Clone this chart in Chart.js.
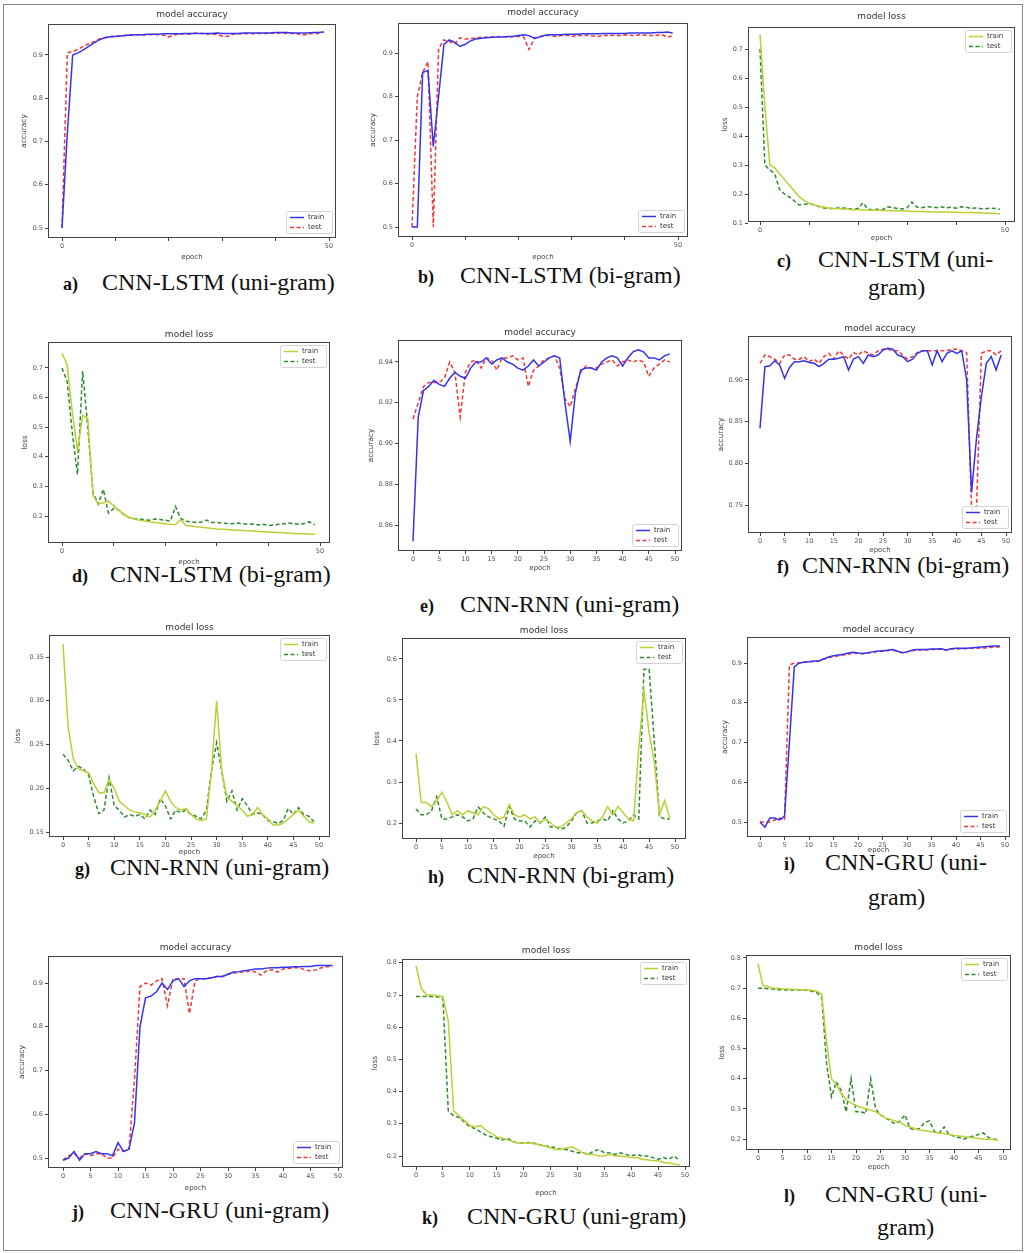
<!DOCTYPE html>
<html>
<head>
<meta charset="utf-8">
<script src="https://cdn.jsdelivr.net/npm/chart.js@4.4.0/dist/chart.umd.min.js"></script>
<style>
  body { margin: 0; background: #fff; width: 1027px; height: 1253px; position: relative; overflow: hidden; }
  .frame { position: absolute; left: 3px; top: 4px; width: 1018px; height: 1245px; border: 1px solid #888; }
  canvas { position: absolute; }
  .cap { position: absolute; font-family: "Liberation Serif", serif; font-size: 24px; line-height: 24px; color: #111; white-space: nowrap; }
  .cap b { display: inline-block; font-size: 18px; }
</style>
</head>
<body>
<div class="frame"></div>

<div class="cap" style="left:63px;top:270px"><b style="width:39px">a)</b>CNN-LSTM (uni-gram)</div>
<div class="cap" style="left:418px;top:263px"><b style="width:42px">b)</b>CNN-LSTM (bi-gram)</div>
<div class="cap" style="left:777px;top:247px"><b style="width:41px">c)</b>CNN-LSTM (uni-</div>
<div class="cap" style="left:868px;top:275px">gram)</div>
<div class="cap" style="left:72px;top:562px"><b style="width:38px">d)</b>CNN-LSTM (bi-gram)</div>
<div class="cap" style="left:420px;top:592px"><b style="width:40px">e)</b>CNN-RNN (uni-gram)</div>
<div class="cap" style="left:777px;top:553px"><b style="width:25px">f)</b>CNN-RNN (bi-gram)</div>
<div class="cap" style="left:75px;top:855px"><b style="width:35px">g)</b>CNN-RNN (uni-gram)</div>
<div class="cap" style="left:428px;top:863px"><b style="width:39px">h)</b>CNN-RNN (bi-gram)</div>
<div class="cap" style="left:784px;top:850px"><b style="width:41px">i)</b>CNN-GRU (uni-</div>
<div class="cap" style="left:868px;top:885px">gram)</div>
<div class="cap" style="left:72px;top:1198px"><b style="width:38px">j)</b>CNN-GRU (uni-gram)</div>
<div class="cap" style="left:422px;top:1204px"><b style="width:45px">k)</b>CNN-GRU (uni-gram)</div>
<div class="cap" style="left:784px;top:1182px"><b style="width:41px">l)</b>CNN-GRU (uni-</div>
<div class="cap" style="left:877px;top:1215px">gram)</div>

<script>
// epochs 0..49 (x values)
const epochs = [
  0, 1, 2, 3, 4, 5, 6, 7, 8, 9,
  10, 11, 12, 13, 14, 15, 16, 17, 18, 19,
  20, 21, 22, 23, 24, 25, 26, 27, 28, 29,
  30, 31, 32, 33, 34, 35, 36, 37, 38, 39,
  40, 41, 42, 43, 44, 45, 46, 47, 48, 49
];

// a) CNN-LSTM uni-gram, accuracy
const aTrain = [
  0.50, 0.72, 0.90, 0.905, 0.912, 0.92, 0.928, 0.935, 0.94, 0.942,
  0.943, 0.944, 0.945, 0.946, 0.947, 0.947, 0.948, 0.948, 0.948, 0.949,
  0.949, 0.949, 0.949, 0.95, 0.95, 0.95, 0.95, 0.95, 0.95, 0.951,
  0.95, 0.95, 0.95, 0.95, 0.951, 0.951, 0.951, 0.951, 0.951, 0.951,
  0.952, 0.952, 0.952, 0.951, 0.951, 0.951, 0.951, 0.952, 0.952, 0.953
];
const aTest = [
  0.50, 0.905, 0.908, 0.913, 0.92, 0.926, 0.931, 0.937, 0.94, 0.942,
  0.944, 0.944, 0.946, 0.946, 0.947, 0.947, 0.946, 0.948, 0.947, 0.946,
  0.942, 0.947, 0.948, 0.949, 0.948, 0.951, 0.95, 0.948, 0.949, 0.947,
  0.944, 0.943, 0.948, 0.949, 0.949, 0.95, 0.949, 0.95, 0.95, 0.951,
  0.95, 0.951, 0.95, 0.95, 0.949, 0.946, 0.948, 0.95, 0.95, 0.953
];

// b) CNN-LSTM bi-gram, accuracy
const bTrain = [
  0.50, 0.50, 0.855, 0.86, 0.685, 0.80, 0.92, 0.93, 0.925, 0.915,
  0.92, 0.928, 0.932, 0.934, 0.935, 0.936, 0.937, 0.937, 0.938, 0.938,
  0.94, 0.942, 0.94, 0.934, 0.937, 0.941, 0.942, 0.942, 0.942, 0.943,
  0.943, 0.943, 0.944, 0.944, 0.944, 0.944, 0.945, 0.945, 0.945, 0.945,
  0.945, 0.946, 0.946, 0.946, 0.946, 0.946, 0.947, 0.947, 0.948, 0.946
];
const bTest = [
  0.50, 0.80, 0.855, 0.88, 0.50, 0.91, 0.93, 0.927, 0.92, 0.935,
  0.932, 0.933, 0.935, 0.936, 0.936, 0.937, 0.937, 0.938, 0.936, 0.938,
  0.938, 0.937, 0.908, 0.933, 0.938, 0.94, 0.94, 0.938, 0.94, 0.941,
  0.938, 0.94, 0.94, 0.941, 0.939, 0.938, 0.941, 0.94, 0.941, 0.94,
  0.942, 0.941, 0.94, 0.942, 0.941, 0.94, 0.941, 0.942, 0.936, 0.94
];

// c) CNN-LSTM uni-gram, loss
const cTrain = [
  0.75, 0.50, 0.30, 0.29, 0.27, 0.25, 0.23, 0.21, 0.19, 0.178,
  0.168, 0.162, 0.158, 0.155, 0.152, 0.15, 0.149, 0.148, 0.147, 0.146,
  0.146, 0.145, 0.145, 0.144, 0.144, 0.143, 0.143, 0.142, 0.142, 0.141,
  0.141, 0.14, 0.14, 0.14, 0.139, 0.139, 0.138, 0.138, 0.138, 0.137,
  0.137, 0.136, 0.136, 0.136, 0.135, 0.135, 0.134, 0.134, 0.133, 0.132
];
const cTest = [
  0.70, 0.30, 0.283, 0.27, 0.215, 0.20, 0.19, 0.176, 0.162, 0.165,
  0.166, 0.163, 0.157, 0.152, 0.15, 0.15, 0.152, 0.152, 0.15, 0.147,
  0.15, 0.17, 0.148, 0.146, 0.147, 0.146, 0.155, 0.154, 0.15, 0.148,
  0.152, 0.172, 0.155, 0.153, 0.156, 0.155, 0.153, 0.156, 0.152, 0.154,
  0.151, 0.156, 0.155, 0.15, 0.152, 0.15, 0.149, 0.151, 0.15, 0.147
];

// d) CNN-LSTM bi-gram, loss
const dTrain = [
  0.75, 0.71, 0.55, 0.42, 0.54, 0.53, 0.27, 0.24, 0.245, 0.25,
  0.235, 0.22, 0.205, 0.195, 0.19, 0.186, 0.183, 0.18, 0.178, 0.176,
  0.174, 0.172, 0.171, 0.188, 0.168, 0.166, 0.164, 0.162, 0.16, 0.158,
  0.156, 0.155, 0.154, 0.153, 0.152, 0.151, 0.15, 0.149, 0.148, 0.147,
  0.146, 0.145, 0.144, 0.143, 0.142, 0.141, 0.14, 0.14, 0.139, 0.138
];
const dTest = [
  0.70, 0.655, 0.48, 0.34, 0.69, 0.50, 0.28, 0.24, 0.29, 0.21,
  0.225, 0.22, 0.205, 0.195, 0.19, 0.19, 0.187, 0.186, 0.19, 0.188,
  0.186, 0.183, 0.232, 0.192, 0.182, 0.18, 0.178, 0.18, 0.186, 0.178,
  0.178, 0.176, 0.175, 0.174, 0.176, 0.174, 0.172, 0.173, 0.17, 0.172,
  0.168, 0.17, 0.172, 0.174, 0.176, 0.174, 0.172, 0.175, 0.18, 0.17
];

// e) CNN-RNN uni-gram, accuracy
const eTrain = [
  0.852, 0.913, 0.926, 0.928, 0.931, 0.929, 0.928, 0.932, 0.935, 0.933,
  0.932, 0.937, 0.940, 0.940, 0.942, 0.939, 0.941, 0.942, 0.940, 0.939,
  0.937, 0.936, 0.938, 0.941, 0.938, 0.940, 0.942, 0.943, 0.942, 0.920,
  0.901, 0.925, 0.936, 0.937, 0.937, 0.936, 0.940, 0.942, 0.943, 0.942,
  0.938, 0.942, 0.945, 0.946, 0.945, 0.942, 0.942, 0.941, 0.943, 0.944
];
const eTest = [
  0.912, 0.920, 0.928, 0.930, 0.930, 0.930, 0.932, 0.940, 0.935, 0.913,
  0.935, 0.940, 0.941, 0.937, 0.942, 0.941, 0.936, 0.942, 0.942, 0.943,
  0.941, 0.942, 0.928, 0.936, 0.938, 0.941, 0.942, 0.943, 0.937, 0.922,
  0.918, 0.927, 0.935, 0.938, 0.937, 0.937, 0.939, 0.940, 0.941, 0.938,
  0.940, 0.941, 0.940, 0.941, 0.940, 0.933, 0.937, 0.939, 0.941, 0.940
];

// f) CNN-RNN bi-gram, accuracy
const fTrain = [
  0.842, 0.916, 0.917, 0.923, 0.918, 0.902, 0.915, 0.922, 0.922, 0.923,
  0.921, 0.920, 0.916, 0.920, 0.925, 0.925, 0.926, 0.928, 0.912, 0.925,
  0.928, 0.920, 0.930, 0.928, 0.930, 0.936, 0.938, 0.937, 0.930, 0.928,
  0.922, 0.925, 0.932, 0.935, 0.935, 0.918, 0.935, 0.922, 0.932, 0.935,
  0.932, 0.935, 0.900, 0.765, 0.830, 0.880, 0.920, 0.928, 0.912, 0.930
];
const fTest = [
  0.920, 0.930, 0.928, 0.925, 0.920, 0.930, 0.930, 0.925, 0.925, 0.928,
  0.922, 0.925, 0.920, 0.928, 0.932, 0.925, 0.935, 0.930, 0.925, 0.933,
  0.930, 0.935, 0.932, 0.930, 0.935, 0.937, 0.937, 0.935, 0.935, 0.930,
  0.925, 0.928, 0.933, 0.935, 0.935, 0.935, 0.935, 0.935, 0.935, 0.937,
  0.937, 0.935, 0.933, 0.745, 0.745, 0.932, 0.935, 0.935, 0.930, 0.935
];

// g) CNN-RNN uni-gram, loss
const gTrain = [
  0.365, 0.27, 0.234, 0.222, 0.22, 0.218, 0.205, 0.195, 0.195, 0.21,
  0.20, 0.185, 0.18, 0.175, 0.173, 0.172, 0.17, 0.167, 0.175, 0.185,
  0.197, 0.185, 0.178, 0.175, 0.177, 0.17, 0.165, 0.163, 0.165, 0.22,
  0.30, 0.22, 0.19, 0.185, 0.18, 0.175, 0.168, 0.17, 0.178, 0.17,
  0.165, 0.158, 0.158, 0.16, 0.165, 0.17, 0.175, 0.168, 0.162, 0.16
];
const gTest = [
  0.239, 0.232, 0.22, 0.225, 0.222, 0.215, 0.19, 0.171, 0.175, 0.212,
  0.18, 0.175, 0.167, 0.17, 0.168, 0.17, 0.165, 0.175, 0.17, 0.188,
  0.18, 0.165, 0.175, 0.172, 0.175, 0.17, 0.168, 0.165, 0.175, 0.22,
  0.252, 0.22, 0.185, 0.197, 0.175, 0.188, 0.18, 0.17, 0.172, 0.17,
  0.163, 0.162, 0.16, 0.163, 0.177, 0.17, 0.178, 0.17, 0.168, 0.162
];

// h) CNN-RNN bi-gram, loss
const hTrain = [
  0.37, 0.25, 0.25, 0.24, 0.255, 0.275, 0.25, 0.22, 0.23, 0.22,
  0.23, 0.225, 0.22, 0.24, 0.235, 0.22, 0.21, 0.215, 0.245, 0.22,
  0.215, 0.22, 0.21, 0.215, 0.20, 0.21, 0.20, 0.19, 0.19, 0.20,
  0.21, 0.225, 0.23, 0.215, 0.205, 0.20, 0.215, 0.24, 0.22, 0.24,
  0.225, 0.21, 0.205, 0.38, 0.525, 0.42, 0.35, 0.22, 0.255, 0.21
];
const hTest = [
  0.234, 0.22, 0.22, 0.23, 0.264, 0.21, 0.21, 0.215, 0.22, 0.215,
  0.205, 0.21, 0.239, 0.225, 0.215, 0.21, 0.205, 0.192, 0.24, 0.21,
  0.205, 0.205, 0.19, 0.205, 0.20, 0.215, 0.19, 0.19, 0.185, 0.19,
  0.205, 0.225, 0.23, 0.20, 0.20, 0.205, 0.21, 0.205, 0.23, 0.21,
  0.20, 0.205, 0.22, 0.21, 0.575, 0.575, 0.40, 0.215, 0.21, 0.21
];

// i) CNN-GRU uni-gram, accuracy
const iTrain = [
  0.50, 0.487, 0.51, 0.51, 0.505, 0.515, 0.70, 0.89, 0.90, 0.902,
  0.903, 0.905, 0.905, 0.91, 0.915, 0.918, 0.92, 0.922, 0.925, 0.927,
  0.925, 0.924, 0.926, 0.928, 0.93, 0.93, 0.932, 0.934, 0.93, 0.926,
  0.928, 0.932, 0.934, 0.934, 0.934, 0.935, 0.935, 0.936, 0.933, 0.936,
  0.937, 0.937, 0.937, 0.938, 0.939, 0.94, 0.941, 0.942, 0.943, 0.943
];
const iTest = [
  0.50, 0.50, 0.50, 0.505, 0.51, 0.505, 0.895, 0.90, 0.90, 0.902,
  0.903, 0.904, 0.905, 0.91, 0.913, 0.916, 0.918, 0.92, 0.922, 0.925,
  0.924, 0.923, 0.925, 0.927, 0.929, 0.93, 0.931, 0.933, 0.929, 0.926,
  0.928, 0.931, 0.932, 0.933, 0.933, 0.934, 0.934, 0.935, 0.932, 0.935,
  0.935, 0.936, 0.936, 0.937, 0.937, 0.938, 0.938, 0.939, 0.94, 0.94
];

// j) CNN-GRU uni-gram, accuracy
const jTrain = [
  0.495, 0.50, 0.515, 0.495, 0.51, 0.51, 0.515, 0.51, 0.51, 0.505,
  0.535, 0.515, 0.52, 0.58, 0.80, 0.866, 0.87, 0.88, 0.90, 0.885,
  0.905, 0.91, 0.892, 0.905, 0.91, 0.91, 0.91, 0.912, 0.915, 0.915,
  0.92, 0.925, 0.926, 0.928, 0.93, 0.932, 0.932, 0.934, 0.935, 0.935,
  0.936, 0.936, 0.937, 0.937, 0.938, 0.938, 0.94, 0.94, 0.94, 0.94
];
const jTest = [
  0.495, 0.505, 0.51, 0.50, 0.51, 0.505, 0.51, 0.51, 0.50, 0.50,
  0.52, 0.515, 0.52, 0.68, 0.892, 0.90, 0.895, 0.905, 0.91, 0.848,
  0.91, 0.91, 0.91, 0.83, 0.905, 0.91, 0.91, 0.912, 0.915, 0.915,
  0.92, 0.922, 0.925, 0.925, 0.928, 0.925, 0.918, 0.928, 0.93, 0.925,
  0.932, 0.933, 0.935, 0.935, 0.93, 0.928, 0.93, 0.935, 0.937, 0.938
];

// k) CNN-GRU uni-gram, loss
const kTrain = [
  0.79, 0.72, 0.70, 0.70, 0.698, 0.695, 0.62, 0.34, 0.325, 0.31,
  0.295, 0.29, 0.295, 0.28, 0.27, 0.26, 0.255, 0.25, 0.245, 0.24,
  0.24, 0.24, 0.238, 0.235, 0.23, 0.225, 0.22, 0.22, 0.225, 0.228,
  0.22, 0.21, 0.205, 0.205, 0.20, 0.20, 0.205, 0.20, 0.20, 0.198,
  0.195, 0.195, 0.19, 0.188, 0.185, 0.185, 0.18, 0.178, 0.175, 0.172
];
const kTest = [
  0.695, 0.695, 0.695, 0.695, 0.694, 0.69, 0.34, 0.325, 0.32, 0.305,
  0.29, 0.285, 0.275, 0.265, 0.26, 0.255, 0.25, 0.255, 0.245, 0.24,
  0.24, 0.242, 0.24, 0.235, 0.23, 0.23, 0.225, 0.22, 0.22, 0.215,
  0.21, 0.21, 0.205, 0.215, 0.22, 0.21, 0.21, 0.205, 0.21, 0.205,
  0.20, 0.205, 0.20, 0.20, 0.195, 0.19, 0.195, 0.19, 0.20, 0.185
];

// l) CNN-GRU uni-gram, loss
const lTrain = [
  0.78, 0.71, 0.705, 0.70, 0.70, 0.698, 0.697, 0.696, 0.695, 0.695,
  0.694, 0.693, 0.69, 0.68, 0.52, 0.40, 0.38, 0.35, 0.33, 0.32,
  0.31, 0.305, 0.30, 0.295, 0.29, 0.28, 0.27, 0.265, 0.26, 0.255,
  0.245, 0.24, 0.235, 0.23, 0.228, 0.225, 0.222, 0.22, 0.218, 0.215,
  0.212, 0.21, 0.208, 0.206, 0.204, 0.202, 0.20, 0.199, 0.198, 0.196
];
const lTest = [
  0.70, 0.70, 0.698, 0.697, 0.695, 0.695, 0.694, 0.694, 0.694, 0.693,
  0.693, 0.69, 0.685, 0.67, 0.45, 0.34, 0.39, 0.36, 0.29, 0.40,
  0.29, 0.29, 0.285, 0.40, 0.30, 0.28, 0.27, 0.26, 0.25, 0.26,
  0.28, 0.235, 0.23, 0.235, 0.255, 0.26, 0.225, 0.22, 0.24, 0.215,
  0.21, 0.205, 0.20, 0.205, 0.21, 0.215, 0.22, 0.205, 0.20, 0.198
];

// tick labels
const xTicksWide = [0, 10, 20, 30, 40, 50];
const xLabelsWide = [0, 50];
const xTicksFive = [0, 5, 10, 15, 20, 25, 30, 35, 40, 45, 50];
const accTicks = [0.5, 0.6, 0.7, 0.8, 0.9];
const cTicks = [0.1, 0.2, 0.3, 0.4, 0.5, 0.6, 0.7];
const dTicks = [0.2, 0.3, 0.4, 0.5, 0.6, 0.7];
const eTicks = [0.86, 0.88, 0.90, 0.92, 0.94];
const fTicks = [0.75, 0.80, 0.85, 0.90];
const gTicks = [0.15, 0.20, 0.25, 0.30, 0.35];
const hTicks = [0.2, 0.3, 0.4, 0.5, 0.6];
const klTicks = [0.2, 0.3, 0.4, 0.5, 0.6, 0.7, 0.8];

const FONT = '"DejaVu Sans", sans-serif';
const colors = {
  acc: ['#3434ee', '#f03838'],
  loss: ['#bccf35', '#2f8a2f']
};

// box = plot area [left, top, right, bottom]; xRef = pixels of epoch 0 and 50;
// yRef = two (pixel, value) pairs; gaps = title / x-title / y-title distance from the frame
const panels = [
  { kind: 'acc', train: aTrain, test: aTest, yTicks: accTicks, xTicks: xTicksWide, xLab: xLabelsWide, dec: 1,
    box: [48, 24, 336, 238], xRef: [62, 329], yRef: [[228, 0.5], [55, 0.9]], tGap: 9, xGap: 19, yGap: 23 },
  { kind: 'acc', train: bTrain, test: bTest, yTicks: accTicks, xTicks: xTicksWide, xLab: xLabelsWide, dec: 1,
    box: [398, 23, 688, 237], xRef: [412, 678], yRef: [[227, 0.5], [53, 0.9]], tGap: 10, xGap: 20, yGap: 24 },
  { kind: 'loss', train: cTrain, test: cTest, yTicks: cTicks, xTicks: xTicksWide, xLab: xLabelsWide, dec: 1,
    box: [748, 27, 1015, 222], xRef: [760, 1005], yRef: [[223, 0.1], [49, 0.7]], tGap: 10, xGap: 16, yGap: 22 },
  { kind: 'loss', train: dTrain, test: dTest, yTicks: dTicks, xTicks: xTicksWide, xLab: xLabelsWide, dec: 1,
    box: [48, 342, 330, 543], xRef: [62, 320], yRef: [[516, 0.2], [368, 0.7]], tGap: 7, xGap: 19, yGap: 22 },
  { kind: 'acc', train: eTrain, test: eTest, yTicks: eTicks, xTicks: xTicksFive, xLab: xTicksFive, dec: 2,
    box: [398, 340, 682, 551], xRef: [413, 675], yRef: [[525, 0.86], [362, 0.94]], tGap: 7, xGap: 17, yGap: 26 },
  { kind: 'acc', train: fTrain, test: fTest, yTicks: fTicks, xTicks: xTicksFive, xLab: xTicksFive, dec: 2,
    box: [748, 336, 1012, 533], xRef: [760, 1006], yRef: [[505, 0.75], [380, 0.90]], tGap: 7, xGap: 17, yGap: 26 },
  { kind: 'loss', train: gTrain, test: gTest, yTicks: gTicks, xTicks: xTicksFive, xLab: xTicksFive, dec: 2,
    box: [49, 635, 330, 837], xRef: [63, 319], yRef: [[832, 0.15], [657, 0.35]], tGap: 7, xGap: 15, yGap: 30 },
  { kind: 'loss', train: hTrain, test: hTest, yTicks: hTicks, xTicks: xTicksFive, xLab: xTicksFive, dec: 1,
    box: [402, 638, 686, 839], xRef: [416, 675], yRef: [[823, 0.2], [659, 0.6]], tGap: 7, xGap: 17, yGap: 24 },
  { kind: 'acc', train: iTrain, test: iTest, yTicks: accTicks, xTicks: xTicksFive, xLab: xTicksFive, dec: 1,
    box: [747, 637, 1010, 837], xRef: [760, 1005], yRef: [[822, 0.5], [663, 0.9]], tGap: 7, xGap: 13, yGap: 21 },
  { kind: 'acc', train: jTrain, test: jTest, yTicks: accTicks, xTicks: xTicksFive, xLab: xTicksFive, dec: 1,
    box: [48, 956, 343, 1168], xRef: [63, 338], yRef: [[1158, 0.5], [983, 0.9]], tGap: 8, xGap: 20, yGap: 25 },
  { kind: 'loss', train: kTrain, test: kTest, yTicks: klTicks, xTicks: xTicksFive, xLab: xTicksFive, dec: 1,
    box: [402, 959, 690, 1167], xRef: [416, 685], yRef: [[1156, 0.2], [995, 0.7]], tGap: 8, xGap: 26, yGap: 26 },
  { kind: 'loss', train: lTrain, test: lTest, yTicks: klTicks, xTicks: xTicksFive, xLab: xTicksFive, dec: 1,
    box: [746, 955, 1011, 1150], xRef: [758, 1003], yRef: [[1139, 0.2], [958, 0.8]], tGap: 7, xGap: 17, yGap: 23 }
];

// matplotlib-like frame around the plot area
const framePlugin = {
  id: 'frame',
  afterDatasetsDraw(chart) {
    const { ctx, chartArea: a } = chart;
    ctx.save();
    ctx.strokeStyle = '#444';
    ctx.lineWidth = 1;
    ctx.strokeRect(a.left + 0.5, a.top + 0.5, a.right - a.left - 1, a.bottom - a.top - 1);
    ctx.restore();
  }
};

// legend drawn inside the axes
const innerLegend = {
  id: 'innerLegend',
  afterDatasetsDraw(chart, args, opts) {
    const { ctx, chartArea: a } = chart;
    const w = 46, h = 22;
    const x = a.right - w - 4;
    const y = opts.where === 'lower' ? a.bottom - h - 5 : a.top + 3;
    ctx.save();
    ctx.fillStyle = 'rgba(255,255,255,0.85)';
    ctx.strokeStyle = '#d4d4d4';
    ctx.lineWidth = 1;
    ctx.beginPath();
    ctx.roundRect(x + 0.5, y + 0.5, w, h, 2);
    ctx.fill();
    ctx.stroke();
    chart.data.datasets.forEach((ds, i) => {
      const ly = y + 6.5 + i * 10;
      ctx.strokeStyle = ds.borderColor;
      ctx.lineWidth = ds.borderWidth;
      ctx.setLineDash(ds.borderDash || []);
      ctx.beginPath();
      ctx.moveTo(x + 4, ly);
      ctx.lineTo(x + 18, ly);
      ctx.stroke();
      ctx.setLineDash([]);
      ctx.fillStyle = '#333';
      ctx.font = '7px ' + FONT;
      ctx.textBaseline = 'middle';
      ctx.fillText(ds.label, x + 22, ly);
    });
    ctx.restore();
  }
};

panels.forEach(p => {
  const [l, t, r, b] = p.box;
  const padL = p.yGap + 5, padR = 6, padT = p.tGap + 8, padB = p.xGap + 4;

  const ppe = (p.xRef[1] - p.xRef[0]) / 50;
  const xMin = -(p.xRef[0] - l) / ppe;
  const xMax = 50 + (r - p.xRef[1]) / ppe;
  const [[pyA, vA], [pyB, vB]] = p.yRef;
  const ppv = (pyA - pyB) / (vB - vA);
  const yMin = vA - (b - pyA) / ppv;
  const yMax = vB + (pyB - t) / ppv;

  const w = r - l + padL + padR, h = b - t + padT + padB;
  const cv = document.createElement('canvas');
  cv.width = w; cv.height = h;
  cv.style.width = w + 'px'; cv.style.height = h + 'px';
  cv.style.left = (l - padL) + 'px'; cv.style.top = (t - padT) + 'px';
  document.body.appendChild(cv);

  const [cTr, cTe] = colors[p.kind];
  const tickStyle = { color: '#555', font: { family: FONT, size: 6.5 } };
  const gridStyle = { display: true, drawOnChartArea: false, drawTicks: true, tickLength: 3, color: '#444' };

  new Chart(cv, {
    type: 'line',
    data: {
      datasets: [
        { label: 'train', data: epochs.map((e, i) => ({ x: e, y: p.train[i] })),
          borderColor: cTr, borderWidth: 1.5, pointRadius: 0, tension: 0 },
        { label: 'test', data: epochs.map((e, i) => ({ x: e, y: p.test[i] })),
          borderColor: cTe, borderWidth: 1.5, borderDash: [4, 2.5], pointRadius: 0, tension: 0 }
      ]
    },
    options: {
      responsive: false,
      animation: false,
      devicePixelRatio: 1,
      layout: { padding: { left: 0, right: padR, top: 0, bottom: 0 } },
      plugins: {
        legend: { display: false },
        tooltip: { enabled: false },
        title: {
          display: true, fullSize: false,
          text: p.kind === 'acc' ? 'model accuracy' : 'model loss',
          color: '#333', font: { family: FONT, size: 9, weight: 'normal', lineHeight: 11 / 9 },
          padding: { top: 2.5, bottom: p.tGap - 5.5 }
        },
        innerLegend: { where: p.kind === 'acc' ? 'lower' : 'upper' }
      },
      scales: {
        x: {
          type: 'linear', min: xMin, max: xMax,
          afterFit: s => { s.height = padB; },
          afterBuildTicks: s => { s.ticks = p.xTicks.map(v => ({ value: v })); },
          ticks: { ...tickStyle, padding: 1.5, maxRotation: 0, autoSkip: false,
            callback: v => (p.xLab.includes(v) ? String(v) : '') },
          grid: gridStyle,
          border: { display: false },
          title: { display: true, text: 'epoch', color: '#444', font: { family: FONT, size: 7 }, padding: 0 }
        },
        y: {
          min: yMin, max: yMax,
          afterFit: s => { s.width = padL; },
          afterBuildTicks: s => { s.ticks = p.yTicks.map(v => ({ value: v })); },
          ticks: { ...tickStyle, padding: 2, autoSkip: false, callback: v => v.toFixed(p.dec) },
          grid: gridStyle,
          border: { display: false },
          title: { display: true, text: p.kind === 'acc' ? 'accuracy' : 'loss', color: '#444',
            font: { family: FONT, size: 7.5 }, padding: 0 }
        }
      }
    },
    plugins: [framePlugin, innerLegend]
  });
});
</script>
</body>
</html>
